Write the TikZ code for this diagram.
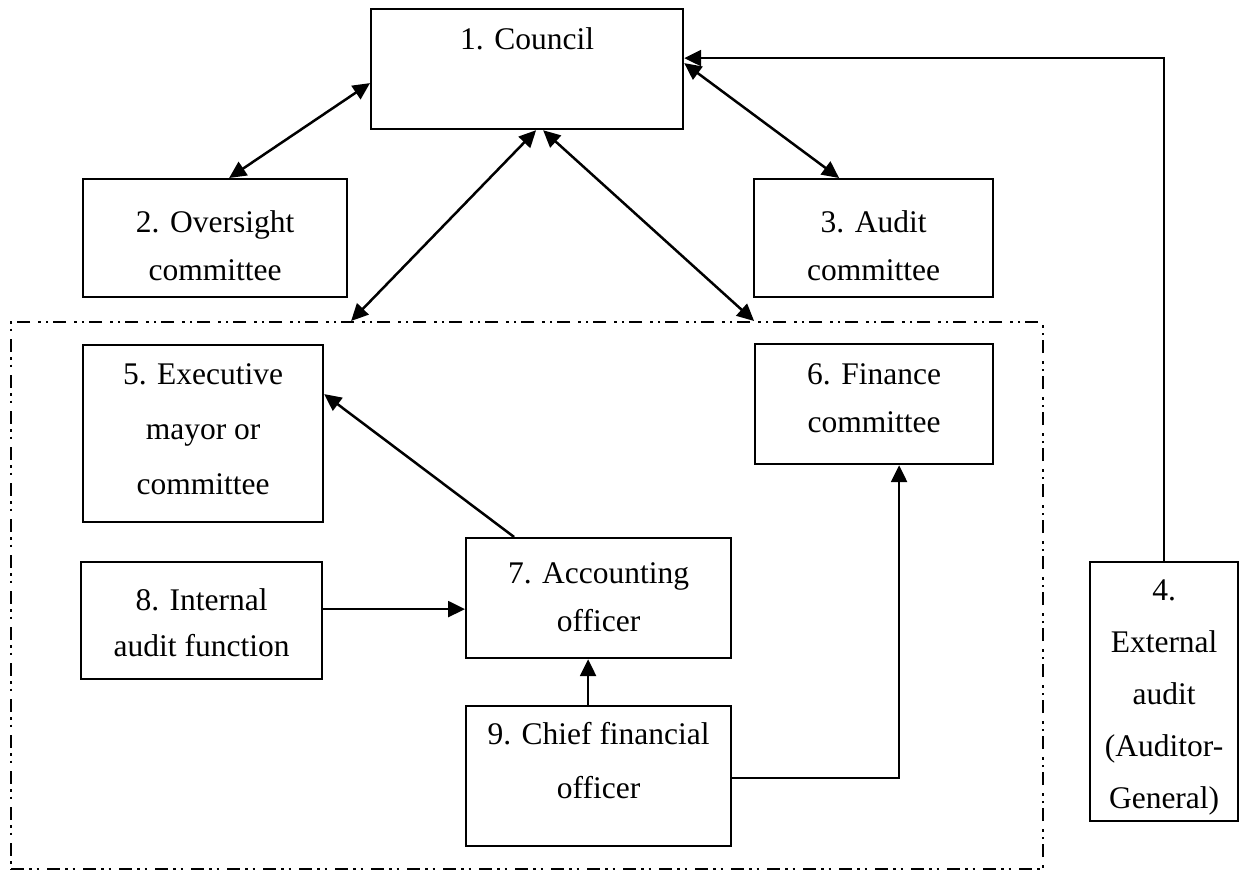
\documentclass[tikz,border=0pt]{standalone}
\usepackage{fontspec}
\setmainfont{Liberation Serif}
\usetikzlibrary{arrows.meta,calc}
\newcommand\firststrut{\rule{0pt}{25pt}}
\begin{document}
\begin{tikzpicture}[x=1pt,y=-1pt,
  box/.style={draw, line width=2.2pt, anchor=north west, inner sep=0pt},
  txt/.style={anchor=north, inner sep=0pt, align=center, font=\fontsize{31.5}{#1}\selectfont},
  txt/.default=48,
  arr/.style={line width=2.5pt, -{Triangle[length=17pt,width=16pt]}},
  darr/.style={line width=2.5pt, {Triangle[length=17pt,width=16pt]}-{Triangle[length=17pt,width=16pt]}},
  grpbox/.style={draw, line width=2.2pt, anchor=north west, inner sep=0pt,
    dash pattern=on 13pt off 5pt on 2.5pt off 5pt on 2.5pt off 8pt}]
\useasboundingbox (0,0) rectangle (1247,873);

% group frame
\node[grpbox, minimum width=1032pt, minimum height=547pt] (grp) at (10,321) {};

% boxes
\node[box, minimum width=312pt, minimum height=120pt] (b1) at (370,8) {};
\node[box, minimum width=264pt, minimum height=118pt] (b2) at (82,178) {};
\node[box, minimum width=239pt, minimum height=118pt] (b3) at (753,178) {};
\node[box, minimum width=240pt, minimum height=177pt] (b5) at (82,344) {};
\node[box, minimum width=238pt, minimum height=120pt] (b6) at (754,343) {};
\node[box, minimum width=265pt, minimum height=120pt] (b7) at (465,537) {};
\node[box, minimum width=241pt, minimum height=117pt] (b8) at (80,561) {};
\node[box, minimum width=265pt, minimum height=140pt] (b9) at (465,705) {};
\node[box, minimum width=148pt, minimum height=259pt] (b4) at (1089,561) {};

% texts
\node[txt] (t1) at ($(b1.north)+(0,16)$) {\firststrut 1. Council};
\node[txt] (t2) at ($(b2.north)+(0,29)$) {\firststrut 2. Oversight\\committee};
\node[txt] (t3) at ($(b3.north)+(0,29)$) {\firststrut 3. Audit\\committee};
\node[txt=55] (t5) at ($(b5.north)+(0,15)$) {\firststrut 5. Executive\\mayor or\\committee};
\node[txt] (t6) at ($(b6.north)+(0,16)$) {\firststrut 6. Finance\\committee};
\node[txt] (t7) at ($(b7.north)+(0,21)$) {\firststrut 7. Accounting\\officer};
\node[txt=46] (t8) at ($(b8.north)+(0,24)$) {\firststrut 8. Internal\\audit function};
\node[txt=54] (t9) at ($(b9.north)+(0,14)$) {\firststrut 9. Chief financial\\officer};
\node[txt=52] (t4) at ($(b4.north)+(0,14)$) {\firststrut 4.\\External\\audit\\(Auditor-\\General)};

% connectors
\draw[darr] ([xshift=14pt]b2.north) -- ([yshift=-14pt]b1.west);
\draw[darr] ([xshift=-34.5pt]b3.north) -- ([yshift=6pt]b1.east);
\draw[darr] ([xshift=-176pt]grp.north) -- ([xshift=9pt]b1.south);
\draw[darr] ([xshift=227pt]grp.north) -- ([xshift=16pt]b1.south);
\draw[arr] (b4.north) |- ([yshift=11pt]b1.east);
\draw[arr] ([xshift=-84.5pt]b7.north) -- ([yshift=39.5pt]b5.east);
\coordinate (p6) at ([yshift=11.5pt]b8.east);
\draw[arr] (p6) -- (p6 -| b7.west);
\coordinate (p7) at ([xshift=-10.5pt]b9.north);
\draw[arr] (p7) -- (p7 |- b7.south);
\coordinate (p8) at ([yshift=-2pt]b9.east);
\coordinate (q8) at ([xshift=25pt]b6.south);
\draw[arr] (p8) -| (q8);
\end{tikzpicture}
\end{document}
